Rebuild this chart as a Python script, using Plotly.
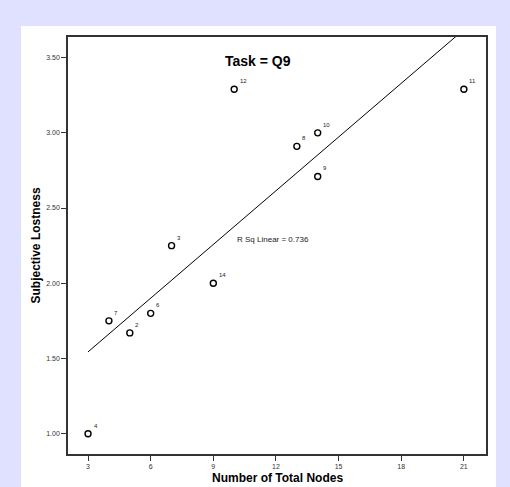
import numpy as np
import plotly.graph_objects as go

# Data
case_ids = ["4", "7", "2", "6", "3", "14", "12", "8", "10", "9", "11"]
total_nodes = [3, 4, 5, 6, 7, 9, 10, 13, 14, 14, 21]
lostness = [1.00, 1.75, 1.67, 1.80, 2.25, 2.00, 3.29, 2.91, 3.00, 2.71, 3.29]
x_ticks = [3, 6, 9, 12, 15, 18, 21]
y_ticks = [1.00, 1.50, 2.00, 2.50, 3.00, 3.50]
title_text = "Task = Q9"

xa = np.array(total_nodes, dtype=float)
ya = np.array(lostness, dtype=float)
slope, intercept = np.polyfit(xa, ya, 1)
pred = slope * xa + intercept
r2 = 1 - np.sum((ya - pred) ** 2) / np.sum((ya - ya.mean()) ** 2)
fit_x = [xa.min(), xa.max()]
fit_y = [slope * v + intercept for v in fit_x]

FONT = "Liberation Sans, Arial, sans-serif"

fig = go.Figure()
fig.add_trace(go.Scatter(
    x=fit_x, y=fit_y, mode="lines",
    line=dict(color="black", width=1), hoverinfo="skip", showlegend=False))
fig.add_trace(go.Scatter(
    x=total_nodes, y=lostness, mode="markers",
    marker=dict(symbol="circle-open", size=6, color="black", line=dict(width=1.4)),
    showlegend=False, cliponaxis=False))

axis_common = dict(
    showgrid=False, zeroline=False, showline=True, linecolor="#333333",
    linewidth=1.5, mirror=True, ticks="outside", ticklen=5, tickwidth=1,
    tickcolor="#333333", tickfont=dict(family=FONT, size=7, color="#333333"))

fig.update_xaxes(range=[2.04, 22.06], tickvals=x_ticks,
                 ticktext=[str(v) for v in x_ticks], **axis_common)
fig.update_yaxes(range=[0.865, 3.637], tickvals=y_ticks,
                 ticktext=[f"{v:.2f}" for v in y_ticks], **axis_common)

point_labels = [
    dict(text=cid, xref="x", yref="y", x=xv, y=yv, xanchor="left",
         yanchor="middle", xshift=3.5, yshift=8, showarrow=False,
         font=dict(family=FONT, size=6, color="#222222"))
    for cid, xv, yv in zip(case_ids, total_nodes, lostness)
]

fig.update_layout(
    width=510, height=487,
    margin=dict(l=68, r=24, t=37, b=33, pad=0),
    paper_bgcolor="#e0e0ff", plot_bgcolor="white",
    showlegend=False,
    font=dict(family=FONT),
    shapes=[dict(type="rect", xref="paper", yref="paper",
                 x0=-0.1124, x1=1.0239, y0=-0.0791, y1=1.0264,
                 fillcolor="white", line=dict(width=0), layer="below")],
    annotations=point_labels + [
        dict(text=f"<b>{title_text}</b>", xref="paper", yref="paper",
             x=0.4545, y=0.9424, xanchor="center", yanchor="middle",
             showarrow=False,
             font=dict(family=FONT, size=14, color="black")),
        dict(text=f"R Sq Linear = {r2:.3f}", xref="x", yref="y",
             x=10.06, y=2.29, xanchor="left", yanchor="middle", showarrow=False,
             font=dict(family=FONT, size=8, color="#222222")),
        dict(text="<b>Number of Total Nodes</b>", xref="paper", yref="paper",
             x=0.5, y=-0.0575, xanchor="center", yanchor="middle",
             showarrow=False,
             font=dict(family=FONT, size=12, color="black")),
        dict(text="<b>Subjective Lostness</b>", xref="paper", yref="paper",
             x=-0.0766, y=0.5, xanchor="center", yanchor="middle",
             textangle=-90, showarrow=False,
             font=dict(family=FONT, size=12, color="black")),
    ],
)

fig.write_html("out.html", config={"displayModeBar": False},
               post_script="document.body.style.margin='0';document.body.style.padding='0';")
